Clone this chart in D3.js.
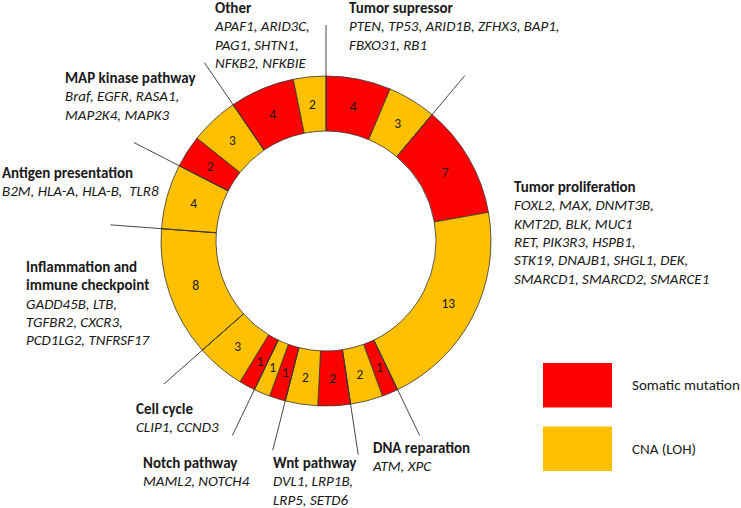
<!DOCTYPE html>
<html>
<head>
<meta charset="utf-8">
<script src="https://cdn.jsdelivr.net/npm/d3@7"></script>
<style>
  html, body { margin: 0; padding: 0; background: #fff; }
  svg { display: block; }
  text { font-family: Carlito, Calibri, Lato, "Open Sans", sans-serif; fill: #1a1a1a; }
</style>
</head>
<body>
<svg id="chart" width="741" height="508"></svg>
<script>
// ---------- data ----------
const groupTitles = [
  ["Tumor supressor"],
  ["Tumor proliferation"],
  ["DNA reparation"],
  ["Wnt pathway"],
  ["Notch pathway"],
  ["Cell cycle"],
  ["Inflammation and", "immune checkpoint"],
  ["Antigen presentation"],
  ["MAP kinase pathway"],
  ["Other"]
];
const groupGenes = [
  ["PTEN, TP53, ARID1B, ZFHX3, BAP1,", "FBXO31, RB1"],
  ["FOXL2, MAX, DNMT3B,", "KMT2D, BLK, MUC1", "RET, PIK3R3, HSPB1,", "STK19, DNAJB1, SHGL1, DEK,", "SMARCD1, SMARCD2, SMARCE1"],
  ["ATM, XPC"],
  ["DVL1, LRP1B,", "LRP5, SETD6"],
  ["MAML2, NOTCH4"],
  ["CLIP1, CCND3"],
  ["GADD45B, LTB,", "TGFBR2, CXCR3,", "PCD1LG2, TNFRSF17"],
  ["B2M, HLA-A, HLA-B,\u00A0 TLR8"],
  ["Braf, EGFR, RASA1,", "MAP2K4, MAPK3"],
  ["APAF1, ARID3C,", "PAG1, SHTN1,", "NFKB2, NFKBIE"]
];
const somaticValues = [4, 7, 1, 2, 1, 1, 0, 0, 2, 4];
const cnaValues     = [3, 13, 2, 2, 1, 3, 8, 4, 3, 2];
const seriesNames = ["Somatic mutation", "CNA (LOH)"];

// ---------- layout ----------
const labelPos = [[349, 13], [514, 192], [373, 453], [273, 468], [143, 468],
                  [136, 414], [26, 272], [2, 178], [65, 83], [215, 13]];
const colors = ["#FF0000", "#FFC000"];
const cx = 326, cy = 241, outerR = 165, innerR = 110, leaderR = 216;
const lineH = 18.3;

const svg = d3.select("#chart");

// segments: each group -> somatic then CNA (clockwise)
const segments = [];
groupTitles.forEach((g, i) => {
  if (somaticValues[i] > 0) segments.push({ group: i, series: 0, value: somaticValues[i] });
  if (cnaValues[i] > 0) segments.push({ group: i, series: 1, value: cnaValues[i] });
});

const pie = d3.pie().sort(null).value(d => d.value).startAngle(0).endAngle(2 * Math.PI);
const arc = d3.arc().innerRadius(innerR).outerRadius(outerR);
const color = d3.scaleOrdinal().domain([0, 1]).range(colors);

const ring = svg.append("g").attr("transform", `translate(${cx},${cy})`);

ring.selectAll("path.seg")
  .data(pie(segments))
  .join("path")
  .attr("class", "seg")
  .attr("d", arc)
  .attr("fill", d => color(d.data.series))
  .attr("stroke", "#333")
  .attr("stroke-width", 0.8);

ring.selectAll("text.val")
  .data(pie(segments))
  .join("text")
  .attr("class", "val")
  .attr("transform", d => `translate(${arc.centroid(d)})`)
  .attr("text-anchor", "middle")
  .attr("dy", "0.35em")
  .style("font-size", "13.5px")
  .text(d => d.data.value);

// group separator leader lines
const groupTotals = somaticValues.map((v, i) => v + cnaValues[i]);
const groupPie = d3.pie().sort(null).value(d => d).startAngle(0).endAngle(2 * Math.PI);
const groupArcs = groupPie(groupTotals);
ring.selectAll("line.sep")
  .data(groupArcs)
  .join("line")
  .attr("class", "sep")
  .attr("x1", d => innerR * Math.sin(d.startAngle))
  .attr("y1", d => -innerR * Math.cos(d.startAngle))
  .attr("x2", d => leaderR * Math.sin(d.startAngle))
  .attr("y2", d => -leaderR * Math.cos(d.startAngle))
  .attr("stroke", "#333")
  .attr("stroke-width", 0.9);

// group labels
groupTitles.forEach((titles, i) => {
  const t = svg.append("text")
    .attr("x", labelPos[i][0])
    .attr("y", labelPos[i][1])
    .style("font-size", "15px");
  let k = 0;
  titles.forEach(line => {
    t.append("tspan").attr("x", labelPos[i][0]).attr("dy", k === 0 ? 0 : lineH)
      .style("font-weight", "bold").text(line);
    k++;
  });
  groupGenes[i].forEach(line => {
    t.append("tspan").attr("x", labelPos[i][0]).attr("dy", lineH)
      .style("font-style", "italic").text(line);
  });
});

// legend
const legend = svg.append("g");
const legY = d3.scaleBand().domain([0, 1]).range([363, 471]).paddingInner(0.3);
seriesNames.forEach((name, i) => {
  legend.append("rect")
    .attr("x", 543).attr("y", legY(i))
    .attr("width", 69).attr("height", legY.bandwidth())
    .attr("fill", colors[i]);
  legend.append("text")
    .attr("x", 632).attr("y", legY(i) + legY.bandwidth() / 2)
    .attr("dy", "0.35em")
    .style("font-size", "15px")
    .text(name);
});
</script>
</body>
</html>
